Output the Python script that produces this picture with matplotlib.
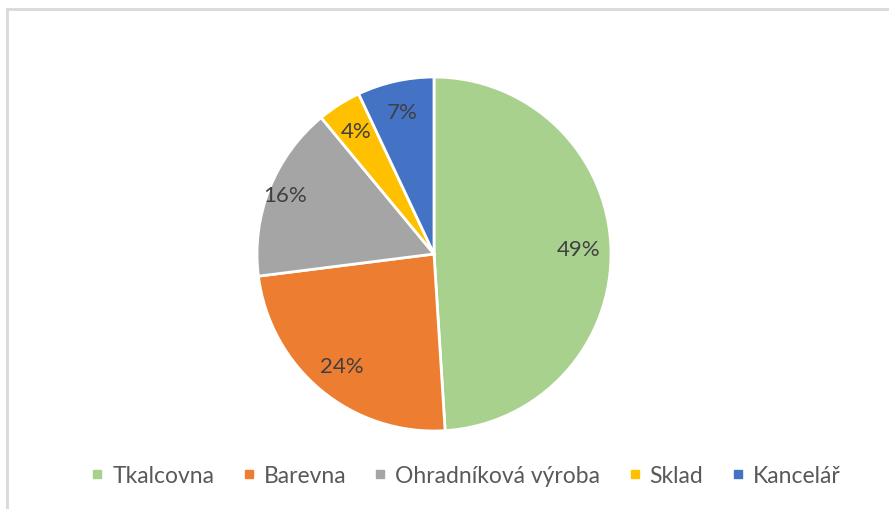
import matplotlib.pyplot as plt
from matplotlib.lines import Line2D

# Data
labels = ["Tkalcovna", "Barevna", "Ohradníková výroba", "Sklad", "Kancelář"]
shares = [49, 24, 16, 4, 7]
colors = ["#A9D18E", "#ED7D31", "#A5A5A5", "#FFC000", "#4472C4"]

plt.rcParams["font.family"] = ["Lato", "DejaVu Sans"]


def main():
    fig = plt.figure(figsize=(8.89, 5.10), dpi=100)

    # chart frame (top and left edge visible)
    fig.add_artist(Line2D([7 / 889, 7 / 889], [0, 1 - 10 / 510],
                          color="#D9D9D9", lw=2))
    fig.add_artist(Line2D([7 / 889, 1], [1 - 10 / 510, 1 - 10 / 510],
                          color="#D9D9D9", lw=2))

    ax = fig.add_axes([257 / 889, 78 / 510, 354 / 889, 354 / 510])
    wedges, texts, autotexts = ax.pie(
        shares,
        colors=colors,
        startangle=90,
        counterclock=False,
        autopct="%1.0f%%",
        pctdistance=0.82,
        wedgeprops=dict(edgecolor="white", linewidth=2),
        textprops=dict(color="#404040", fontsize=16),
    )
    # Excel pushes the 16% label a bit further out
    x, y = autotexts[2].get_position()
    autotexts[2].set_position((x * 1.1, y * 1.1))

    ax.set_xlim(-1, 1)
    ax.set_ylim(-1, 1)
    ax.set_aspect("equal")

    handles = [plt.Line2D([], [], marker="s", linestyle="", markersize=6,
                          color=c) for c in colors]
    fig.legend(handles, labels, loc="center", ncol=5,
               bbox_to_anchor=(462 / 889, 1 - 477 / 510),
               frameon=False, fontsize=16.5, handletextpad=0.05,
               handlelength=1.2, columnspacing=0.9, labelcolor="#595959")

    fig.savefig("out.png", dpi=100)


if __name__ == "__main__":
    main()
